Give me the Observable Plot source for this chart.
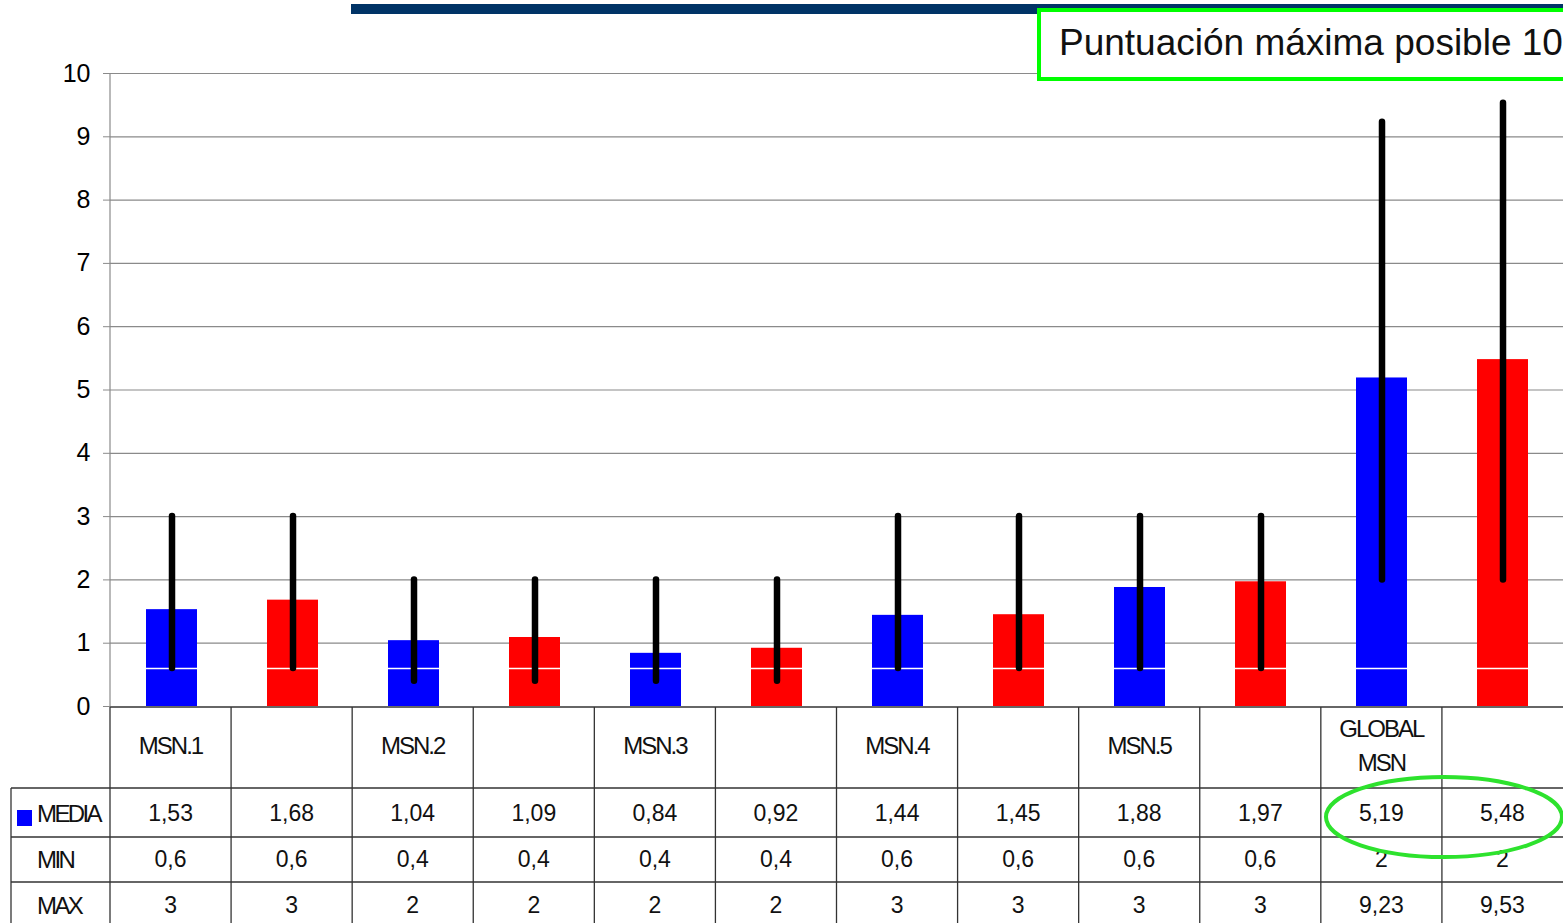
<!DOCTYPE html>
<html><head><meta charset="utf-8">
<script src="https://cdn.jsdelivr.net/npm/d3@7"></script>
<script src="https://cdn.jsdelivr.net/npm/@observablehq/plot@0.6"></script>
<style>
body{margin:0;background:#fff;font-family:"Liberation Sans",Arial,sans-serif;}
#wrap{position:relative;width:1563px;height:923px;overflow:hidden;background:#fff;}
#chart{position:absolute;left:0;top:0;}
#overlay{position:absolute;left:0;top:0;pointer-events:none;}
</style></head><body>
<div id="wrap"><div id="chart"></div><svg id="overlay" width="1563" height="923"></svg></div>
<script>
// ---- data ----
const categories = ["MSN.1", "", "MSN.2", "", "MSN.3", "", "MSN.4", "", "MSN.5", "", "GLOBAL\nMSN", ""];
const seriesColors = ["#0000ff", "#ff0000", "#0000ff", "#ff0000", "#0000ff", "#ff0000", "#0000ff", "#ff0000", "#0000ff", "#ff0000", "#0000ff", "#ff0000"];
const media = [1.53, 1.68, 1.04, 1.09, 0.84, 0.92, 1.44, 1.45, 1.88, 1.97, 5.19, 5.48];
const minVals = [0.6, 0.6, 0.4, 0.4, 0.4, 0.4, 0.6, 0.6, 0.6, 0.6, 2, 2];
const maxVals = [3, 3, 2, 2, 2, 2, 3, 3, 3, 3, 9.23, 9.53];
const yTicks = [0, 1, 2, 3, 4, 5, 6, 7, 8, 9, 10];
const rowLabels = ["MEDIA", "MIN", "MAX"];
const whiteLineValue = 0.6;
const title = "Puntuación máxima posible 10";

const data = categories.map((c, i) => ({i, cat: c, color: seriesColors[i], media: media[i], min: minVals[i], max: maxVals[i]}));
const fmt = v => String(v).replace(".", ",");

const W = 1563, ML = 110, MT = 73, H = 707;

const marks = [
  Plot.ruleY(yTicks.filter(d => d > 0), {stroke: "#8a8a8a", strokeWidth: 1.2}),
  Plot.barY(data, {x: "i", y: "media", fill: "color", insetLeft: 35, insetRight: 35}),
  Plot.tickY(data, {x: "i", y: () => whiteLineValue, stroke: "white", strokeWidth: 1.5, insetLeft: 35, insetRight: 35}),
  Plot.ruleX(data, {x: "i", y1: "min", y2: "max", stroke: "black", strokeWidth: 6.5, strokeLinecap: "round"})
];
if (Plot.axisY) marks.unshift(Plot.axisY(yTicks, {tickSize: 7, tickPadding: 13, fontSize: 25, stroke: "#8a8a8a", fill: "black", label: null, tickFormat: d => String(d)}));

const chart = Plot.plot({
  width: W, height: H,
  marginLeft: ML, marginRight: 0, marginTop: MT, marginBottom: 1,
  style: {fontFamily: "'Liberation Sans', Arial, sans-serif", background: "transparent", overflow: "visible"},
  x: {type: "band", domain: d3.range(categories.length), padding: 0, axis: null},
  y: {domain: [0, 10], label: null, ...(Plot.axisY ? {axis: null} : {ticks: yTicks, tickSize: 7, tickPadding: 13, tickFormat: d => String(d)})},
  marks
});
document.getElementById("chart").appendChild(chart);

// ---- overlay: table, title box, ellipse ----
const bw = (W - ML) / categories.length;
const colLeft = i => ML + i * bw;
const colCenter = i => ML + (i + 0.5) * bw;
const svg = d3.select("#overlay");
const font = "'Liberation Sans', Arial, sans-serif";

// y-axis line
svg.append("line").attr("x1", ML).attr("x2", ML).attr("y1", MT).attr("y2", 706).attr("stroke", "#8a8a8a").attr("stroke-width", 1.2);

// navy bar and title box
svg.append("rect").attr("x", 351).attr("y", 4).attr("width", W - 351).attr("height", 10).attr("fill", "#003366");
svg.append("rect").attr("x", 1039).attr("y", 10).attr("width", 560).attr("height", 69).attr("fill", "white").attr("stroke", "#00ff00").attr("stroke-width", 4);
svg.append("text").attr("x", 1059).attr("y", 55).attr("font-family", font).attr("font-size", 37).attr("fill", "#111").text(title);

// table grid
const rowY = [707, 788, 837, 882, 923];
const g = svg.append("g").attr("stroke", "#333").attr("stroke-width", 1.3);
g.append("line").attr("x1", ML).attr("x2", W).attr("y1", 707).attr("y2", 707);
for (let k = 1; k <= 3; k++) g.append("line").attr("x1", 11).attr("x2", W).attr("y1", rowY[k]).attr("y2", rowY[k]);
for (let i = 0; i < categories.length; i++) g.append("line").attr("x1", colLeft(i)).attr("x2", colLeft(i)).attr("y1", 707).attr("y2", 923);
g.append("line").attr("x1", 11).attr("x2", 11).attr("y1", 788).attr("y2", 923);

// header labels
categories.forEach((c, i) => {
  const lines = c.split("\n").filter(s => s.length);
  const mid = 745;
  lines.forEach((s, j) => {
    svg.append("text").attr("x", colCenter(i)).attr("y", mid + (j - (lines.length - 1) / 2) * 34)
      .attr("dy", "0.36em").attr("text-anchor", "middle").attr("font-family", font).attr("font-size", 24)
      .attr("letter-spacing", "-2px").attr("fill", "#111").text(s);
  });
});

// row labels
const rowMid = [813, 859, 905];
rowLabels.forEach((r, k) => {
  svg.append("text").attr("x", 37).attr("y", rowMid[k]).attr("dy", "0.36em").attr("font-family", font).attr("font-size", 24)
    .attr("letter-spacing", "-2.6px").attr("fill", "#111").text(r);
});
svg.append("rect").attr("x", 17).attr("y", 810).attr("width", 15).attr("height", 16).attr("fill", seriesColors[0]);

// values
[media, minVals, maxVals].forEach((arr, k) => {
  arr.forEach((v, i) => {
    svg.append("text").attr("x", colCenter(i)).attr("y", rowMid[k]).attr("dy", "0.36em").attr("text-anchor", "middle")
      .attr("font-family", font).attr("font-size", 23).attr("fill", "#111").text(fmt(v));
  });
});

// highlight ellipse
svg.append("ellipse").attr("cx", 1444).attr("cy", 817).attr("rx", 118).attr("ry", 40).attr("fill", "none").attr("stroke", "#2de22d").attr("stroke-width", 4);
</script>
</body></html>
